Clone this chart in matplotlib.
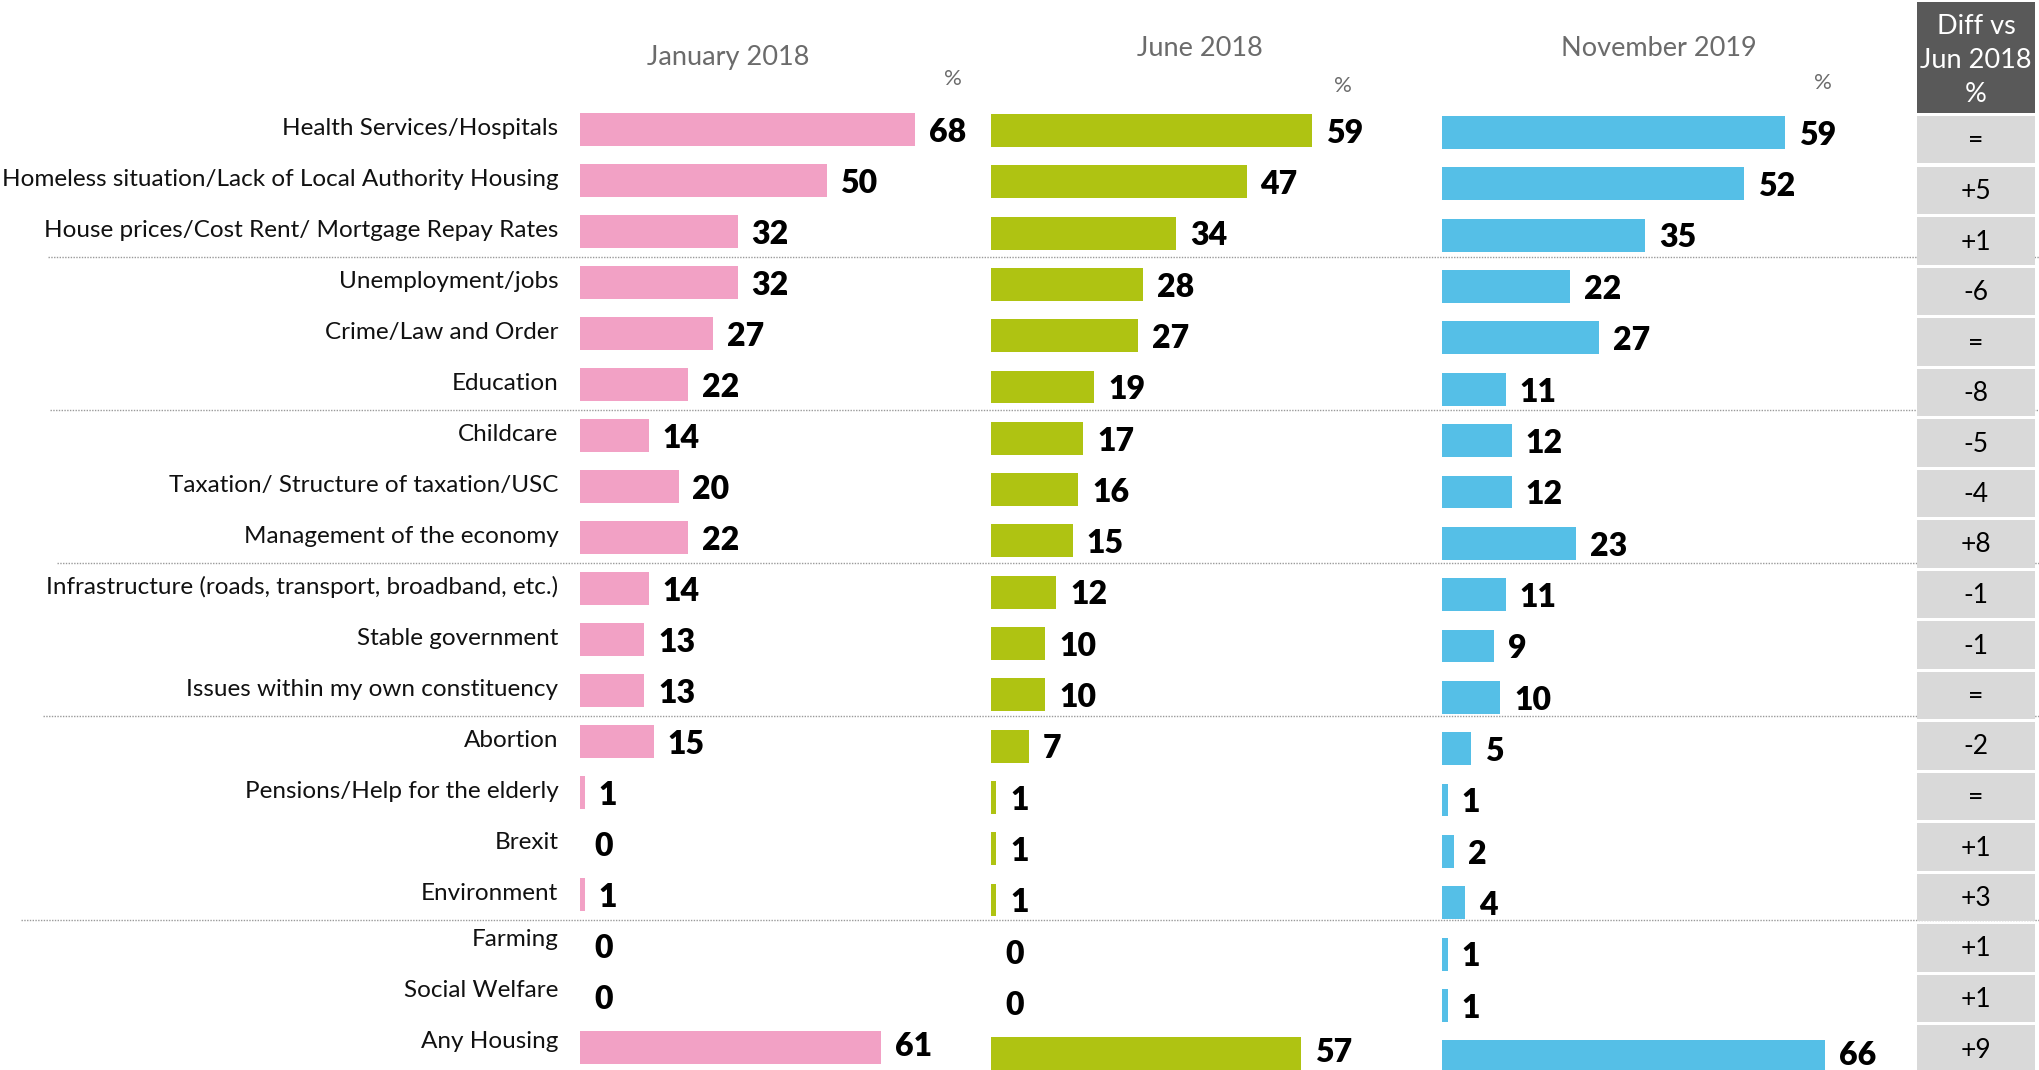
import matplotlib
matplotlib.use("Agg")
import matplotlib.pyplot as plt
from matplotlib.patches import Rectangle
from matplotlib.lines import Line2D

categories = [
    "Health Services/Hospitals",
    "Homeless situation/Lack of Local Authority Housing",
    "House prices/Cost Rent/ Mortgage Repay Rates",
    "Unemployment/jobs",
    "Crime/Law and Order",
    "Education",
    "Childcare",
    "Taxation/ Structure of taxation/USC",
    "Management of the economy",
    "Infrastructure (roads, transport, broadband, etc.)",
    "Stable government",
    "Issues within my own constituency",
    "Abortion",
    "Pensions/Help for the elderly",
    "Brexit",
    "Environment",
    "Farming",
    "Social Welfare",
    "Any Housing",
]
jan_2018 = [68, 50, 32, 32, 27, 22, 14, 20, 22, 14, 13, 13, 15, 1, 0, 1, 0, 0, 61]
jun_2018 = [59, 47, 34, 28, 27, 19, 17, 16, 15, 12, 10, 10, 7, 1, 1, 1, 0, 0, 57]
nov_2019 = [59, 52, 35, 22, 27, 11, 12, 12, 23, 11, 9, 10, 5, 1, 2, 4, 1, 1, 66]
diff_vs_jun = ["=", "+5", "+1", "-6", "=", "-8", "-5", "-4", "+8", "-1", "-1", "=",
               "-2", "=", "+1", "+3", "+1", "+1", "+9"]
panel_titles = ["January 2018", "June 2018", "November 2019"]
diff_header = "Diff vs\nJun 2018\n%"
separator_after = [2, 5, 8, 11, 15]

W, H = 2039, 1070
fig = plt.figure(figsize=(W / 100, H / 100), dpi=100)
plt.rcParams['font.family'] = ['Lato', 'DejaVu Sans']

FONT = 'Lato'
colors = ['#F2A1C5', '#AFC312', '#55BFE7']

# panel geometry in pixels: x_start, x_end, px per unit, first row center y, row spacing
panels = [
    (580, 980, 4.93, 129.5, 51.0, jan_2018),
    (991, 1430, 5.44, 130.5, 51.3, jun_2018),
    (1442, 1915, 5.81, 132.5, 51.35, nov_2019),
]

axes = []
for (x0, x1, sc, y0, dy, vals), col in zip(panels, colors):
    ax = fig.add_axes([x0 / W, 0, (x1 - x0) / W, 1])
    ax.set_xlim(0, (x1 - x0) / sc)
    ax.set_ylim((H - y0) / dy, -y0 / dy)
    ax.axis('off')
    ypos = list(range(len(vals)))
    ax.barh(ypos, vals, height=0.64, color=col, linewidth=0)
    n = len(vals)
    for i, v in enumerate(vals):
        yo = 1 if i == n - 1 else -2
        ax.annotate(str(v), xy=(v, i), xytext=(10, yo), textcoords='offset points',
                    ha='left', va='center', fontsize=23, fontweight='heavy',
                    color='black', family=FONT, annotation_clip=False)
    axes.append(ax)

# category labels
ax0 = axes[0]
for i, c in enumerate(categories):
    dyo = 4 if i >= 16 else 1
    ax0.annotate(c, xy=(0, i), xytext=(-15.5, dyo), textcoords='offset points',
                 ha='right', va='center', fontsize=17.5, color='#111111',
                 family=FONT, annotation_clip=False)

# separators
x0_px, _, _, y0j, dyj, _ = panels[0]
sep_left = [48, 50, 57, 43, 21]
for idx, xl in zip(separator_after, sep_left):
    ypx = y0j + (idx + 0.5) * dyj
    fig.add_artist(Line2D([xl / W, 1], [1 - ypx / H, 1 - ypx / H], color='#9a9a9a',
                          linewidth=1.0, linestyle=(0, (1, 1)), zorder=0))

# titles
title_pos = [(728, 57), (1200, 48), (1659, 48)]
pct_pos = [(953, 79), (1343, 86), (1823, 83)]
for t, (tx, ty), (px, py) in zip(panel_titles, title_pos, pct_pos):
    fig.text(tx / W, 1 - ty / H, t, ha='center', va='center', fontsize=19.5,
             color='#6b6b6b', family=FONT)
    fig.text(px / W, 1 - py / H, '%', ha='center', va='center', fontsize=16,
             color='#6b6b6b', family=FONT)

# diff column
bx0, bx1 = 1917, 2035
fig.add_artist(Rectangle((bx0 / W, 1 - 113 / H), (bx1 - bx0) / W, 111 / H,
                         facecolor='#595959', edgecolor='none', transform=fig.transFigure))
fig.text((bx0 + bx1) / 2 / W, 1 - 60 / H, diff_header, ha='center', va='center',
         fontsize=19.5, color='white', family=FONT, linespacing=1.45)
for i, d in enumerate(diff_vs_jun):
    top = 116 + i * 50.5
    h = 47.5 if i < len(diff_vs_jun) - 1 else H - top
    fig.add_artist(Rectangle((bx0 / W, 1 - (top + h) / H), (bx1 - bx0) / W, h / H,
                             facecolor='#D9D9D9', edgecolor='none',
                             transform=fig.transFigure, zorder=1))
    fig.text((bx0 + bx1) / 2 / W, 1 - (top + 25) / H, d, ha='center', va='center',
             fontsize=19, color='black', family=FONT, zorder=2)

fig.savefig('out.png', dpi=100)
